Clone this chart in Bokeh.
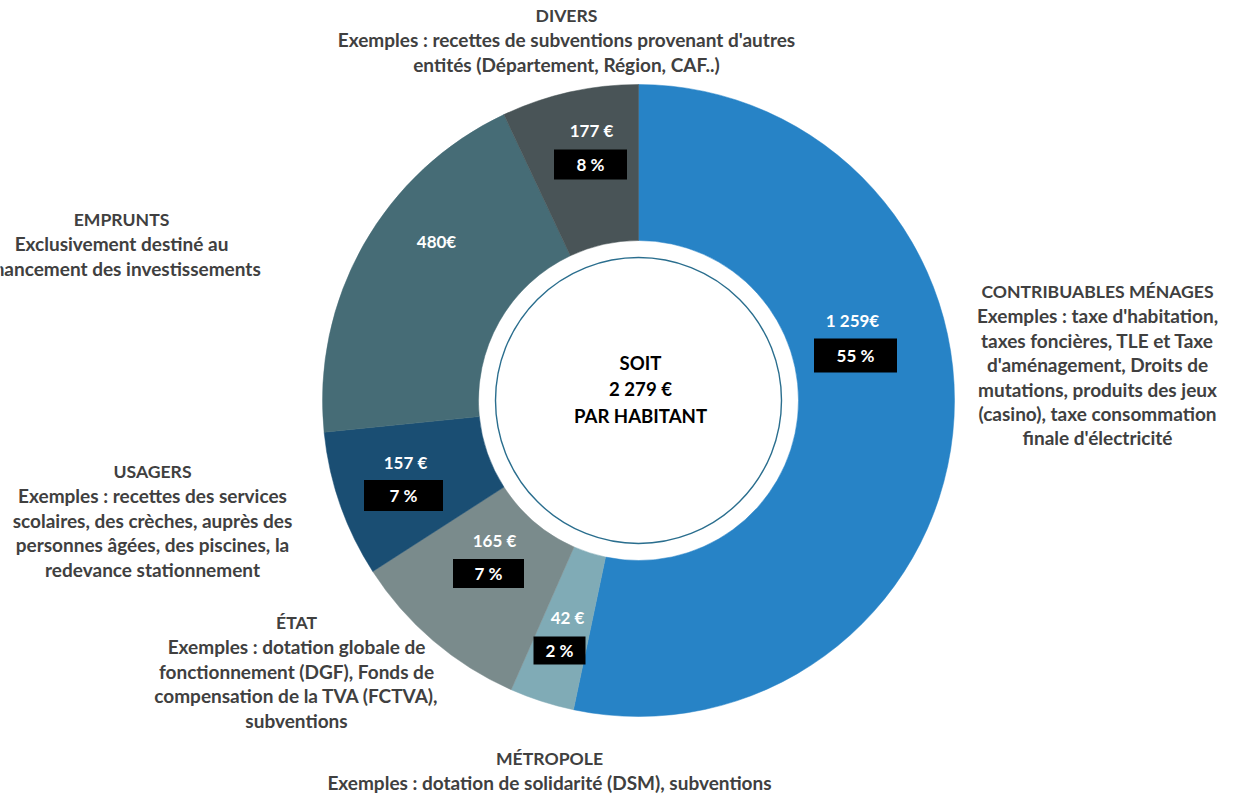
import math
from bokeh.plotting import figure
from bokeh.models import ColumnDataSource, Range1d
from bokeh.embed import file_html
from bokeh.resources import INLINE
from bokeh.core.properties import value

# ---------------- data ----------------
categories = ["CONTRIBUABLES MÉNAGES", "MÉTROPOLE", "ÉTAT", "USAGERS", "EMPRUNTS", "DIVERS"]
amount_labels = ["1 259€", "42 €", "165 €", "157 €", "480€", "177 €"]
percent_labels = ["55 %", "2 %", "7 %", "7 %", "", "8 %"]
# share of the ring occupied by each slice, as drawn (percent, clockwise from 12 o'clock)
slice_shares = [53.3, 3.3, 9.3, 7.5, 19.6, 7.0]
descriptions = [
    ["Exemples : taxe d'habitation,", "taxes foncières, TLE et Taxe", "d'aménagement, Droits de",
     "mutations, produits des jeux", "(casino), taxe consommation", "finale d'électricité"],
    ["Exemples : dotation de solidarité (DSM), subventions"],
    ["Exemples : dotation globale de", "fonctionnement (DGF), Fonds de",
     "compensation de la TVA (FCTVA),", "subventions"],
    ["Exemples : recettes des services", "scolaires, des crèches, auprès des",
     "personnes âgées, des piscines, la", "redevance stationnement"],
    ["Exclusivement destiné au", "financement des investissements"],
    ["Exemples : recettes de subventions provenant d'autres", "entités (Département, Région, CAF..)"],
]
center_text = ["SOIT", "2 279 €", "PAR HABITANT"]

# ---------------- style / layout ----------------
colors = ["#2783C6", "#80ABB6", "#7A8B8C", "#1A4E73", "#466C76", "#495457"]
W, H = 1236, 794
CX, CY = 638, 400            # ring centre (pixels from top-left)
R_OUT, R_IN, R_LINE = 316, 160, 143
FONT = value("Lato")
LINE_STEP = 24.4

# category label anchors: (centre x, first line y)
cat_pos = [(1097, 291), (549, 758), (296, 622), (152, 471), (121, 219), (566, 15)]
# amount label position and percent box (x, y, w, h)
amount_pos = [(852, 320), (567, 617), (494, 540), (405, 462), (436, 241), (591, 130)]
box_pos = [(855, 355, 83, 34), (559, 650, 52, 28), (488, 573, 71, 29),
           (403, 495, 79, 31), None, (590, 164, 73, 30)]


def Y(py):
    return H - py


p = figure(width=W, height=H, output_backend="svg", toolbar_location=None,
           x_range=Range1d(0, W), y_range=Range1d(0, H), min_border=0,
           background_fill_color="white", border_fill_color="white")
p.axis.visible = False
p.grid.visible = False
p.outline_line_color = None

# ---- ring slices ----
total = sum(slice_shares)
starts, ends = [], []
cum = 0.0
for s in slice_shares:
    c0 = cum / total
    cum += s
    c1 = cum / total
    starts.append(math.pi / 2 - c1 * 2 * math.pi)
    ends.append(math.pi / 2 - c0 * 2 * math.pi)

ring = ColumnDataSource(dict(x=[CX] * len(slice_shares), y=[Y(CY)] * len(slice_shares),
                             start=starts, end=ends, color=colors, cat=categories))
p.annular_wedge(x="x", y="y", inner_radius=R_IN, outer_radius=R_OUT,
                inner_radius_units="screen", outer_radius_units="screen",
                start_angle="start", end_angle="end", fill_color="color",
                line_color="color", line_width=0.5, source=ring)

# inner thin circle
p.circle(x=[CX], y=[Y(CY)], radius=R_LINE, radius_units="screen",
         fill_color="white", line_color="#2A6E8E", line_width=1.4)

# ---- centre text ----
p.text(x=[CX + 2] * 3, y=[Y(362), Y(388.5), Y(415)], text=center_text,
       text_font=FONT, text_font_style="bold", text_font_size="18.6px",
       text_color="black", text_align="center", text_baseline="middle")

# ---- category labels ----
hx, hy, ht = [], [], []
lx, ly, lt = [], [], []
for cat, desc, (x0, y0) in zip(categories, descriptions, cat_pos):
    hx.append(x0)
    hy.append(Y(y0))
    ht.append(cat)
    for i, line in enumerate(desc):
        lx.append(x0)
        ly.append(Y(y0 + (i + 1) * LINE_STEP))
        lt.append(line)
p.text(x=hx, y=hy, text=ht, text_font=FONT, text_font_style="bold",
       text_font_size="17.6px", text_color="#404040", text_align="center",
       text_baseline="middle")
p.text(x=lx, y=ly, text=lt, text_font=FONT, text_font_style="bold",
       text_font_size="19px", text_color="#404040", text_align="center",
       text_baseline="middle")

# ---- amount labels ----
p.text(x=[a[0] for a in amount_pos], y=[Y(a[1]) for a in amount_pos], text=amount_labels,
       text_font=FONT, text_font_style="bold", text_font_size="17px",
       text_color="white", text_align="center", text_baseline="middle")

# ---- percent boxes ----
bx, by, bw, bh, bt = [], [], [], [], []
for b, t in zip(box_pos, percent_labels):
    if b is None:
        continue
    bx.append(b[0]); by.append(Y(b[1])); bw.append(b[2]); bh.append(b[3]); bt.append(t)
p.rect(x=bx, y=by, width=bw, height=bh, fill_color="black", line_color=None)
p.text(x=bx, y=by, text=bt, text_font=FONT, text_font_style="bold",
       text_font_size="17px", text_color="white", text_align="center",
       text_baseline="middle")

open("out.html", "w").write(file_html(p, INLINE))
